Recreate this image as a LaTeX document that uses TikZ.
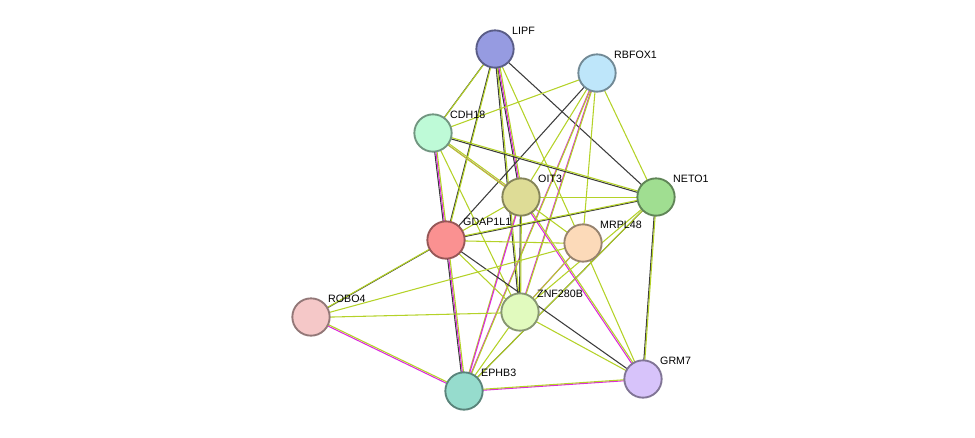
\documentclass[tikz,border=0pt]{standalone}
\usepackage{fontspec}
\setmainfont{Liberation Sans}
\usetikzlibrary{positioning}
\pgfdeclarelayer{bg}
\pgfsetlayers{bg,main}

\tikzset{
  prot/.style={circle,draw=#1!60!black,fill=#1,line width=1.4pt,minimum size=28pt,inner sep=0pt},
  lab/.style={font=\fontsize{8}{9}\selectfont,above right=-3pt and -1pt},
  lny/.style={draw={rgb,255:red,180;green,210;blue,40},line width=0.8pt},
  lnk/.style={draw={rgb,255:red,60;green,60;blue,60},line width=0.8pt},
  lnm/.style={draw={rgb,255:red,220;green,40;blue,220},line width=0.8pt}
}
\definecolor{cLIPF}{RGB}{150,155,225}
\definecolor{cRBFOX}{RGB}{190,230,250}
\definecolor{cCDH}{RGB}{190,250,215}
\definecolor{cOIT}{RGB}{222,220,150}
\definecolor{cNETO}{RGB}{160,222,145}
\definecolor{cGDAP}{RGB}{250,145,145}
\definecolor{cMRPL}{RGB}{252,218,185}
\definecolor{cROBO}{RGB}{245,200,200}
\definecolor{cZNF}{RGB}{225,250,190}
\definecolor{cEPHB}{RGB}{150,220,205}
\definecolor{cGRM}{RGB}{215,195,250}

\newcommand\lnk[3]{\foreach \col [count=\i] in {#3}
  {\draw[ln\col,transform canvas={shift={(\i*0.8pt-1.2pt,\i*0.8pt-1.2pt)}}] (#1.center) -- (#2.center);}}

\begin{document}
\begin{tikzpicture}[x=0.75pt,y=-0.75pt]
\useasboundingbox (0,0) rectangle (975,437);

% proteins
\node[prot=cLIPF] (lipf) at (495,49) {};
\node[prot=cRBFOX] (rbfox) at (597,73) {};
\node[prot=cCDH] (cdh) at (433,133) {};
\node[prot=cOIT] (oit) at (521,197) {};
\node[prot=cNETO] (neto) at (656,197) {};
\node[prot=cGDAP] (gdap) at (446,240) {};
\node[prot=cMRPL] (mrpl) at (583,243) {};
\node[prot=cROBO] (robo) at (311,317) {};
\node[prot=cZNF] (znf) at (520,312) {};
\node[prot=cEPHB] (ephb) at (464,391) {};
\node[prot=cGRM] (grm) at (643,379) {};

\node[lab] at (lipf.north east) {LIPF};
\node[lab] at (rbfox.north east) {RBFOX1};
\node[lab] at (cdh.north east) {CDH18};
\node[lab] at (oit.north east) {OIT3};
\node[lab] at (neto.north east) {NETO1};
\node[lab] at (gdap.north east) {GDAP1L1};
\node[lab] at (mrpl.north east) {MRPL48};
\node[lab] at (robo.north east) {ROBO4};
\node[lab] at (znf.north east) {ZNF280B};
\node[lab] at (ephb.north east) {EPHB3};
\node[lab] at (grm.north east) {GRM7};

% links
\begin{pgfonlayer}{bg}
\lnk{lipf}{cdh}{k,y}
\lnk{lipf}{gdap}{k,y}
\lnk{lipf}{oit}{k,m,y}
\lnk{lipf}{znf}{k,y}
\lnk{lipf}{neto}{k}
\lnk{lipf}{mrpl}{y}
\lnk{rbfox}{cdh}{y}
\lnk{rbfox}{gdap}{k}
\lnk{rbfox}{oit}{y}
\lnk{rbfox}{znf}{m,y}
\lnk{rbfox}{ephb}{m,y}
\lnk{rbfox}{mrpl}{y}
\lnk{rbfox}{neto}{y}
\lnk{cdh}{gdap}{k,m,y}
\lnk{cdh}{oit}{m,y}
\lnk{cdh}{neto}{k,y}
\lnk{cdh}{znf}{y}
\lnk{cdh}{mrpl}{y}
\lnk{oit}{neto}{y}
\lnk{oit}{gdap}{y}
\lnk{oit}{ephb}{y,m}
\lnk{oit}{grm}{m,y}
\lnk{oit}{znf}{k,y}
\lnk{neto}{gdap}{k,y}
\lnk{neto}{grm}{k,y}
\lnk{neto}{ephb}{k,y}
\lnk{neto}{znf}{y}
\lnk{gdap}{mrpl}{y}
\lnk{gdap}{robo}{k,y}
\lnk{gdap}{ephb}{k,m,y}
\lnk{gdap}{znf}{y}
\lnk{gdap}{grm}{k}
\lnk{mrpl}{znf}{m,y}
\lnk{mrpl}{robo}{y}
\lnk{mrpl}{grm}{y}
\lnk{robo}{znf}{y}
\lnk{robo}{ephb}{m,y}
\lnk{znf}{ephb}{y}
\lnk{znf}{grm}{y}
\lnk{ephb}{grm}{m,y}
\end{pgfonlayer}
\end{tikzpicture}
\end{document}
